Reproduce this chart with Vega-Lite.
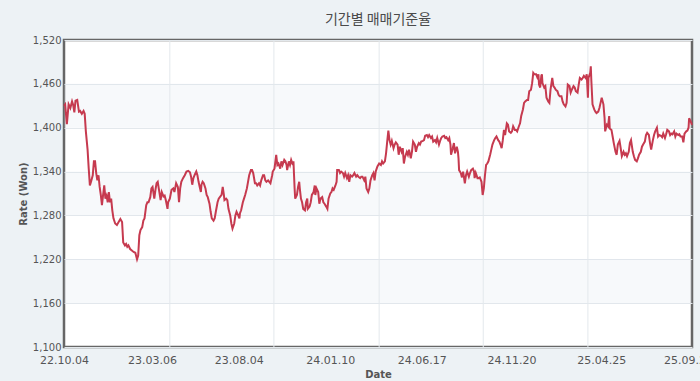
{
  "$schema": "https://vega.github.io/schema/vega-lite/v6.json",
  "width": 628,
  "height": 307,
  "autosize": {"type": "none"},
  "padding": {"left": 64, "top": 40, "right": 8, "bottom": 34},
  "background": "#edf2f5",
  "title": {"text": "기간별 매매기준율", "font": "Noto Sans CJK KR", "fontSize": 14, "fontWeight": "normal", "color": "#4a4a4a", "anchor": "middle", "frame": "group", "offset": 8},
  "config": {
    "view": {"fill": "#ffffff", "stroke": "#666666", "strokeWidth": 2.5},
    "axis": {"labelFont": "DejaVu Sans", "titleFont": "DejaVu Sans", "labelColor": "#555555", "titleColor": "#555555", "domain": false, "ticks": false, "gridColor": "#e3e8ec", "gridWidth": 1}
  },
  "layer": [
    {
      "data": {"values": [{"lo": 1160, "hi": 1220}, {"lo": 1280, "hi": 1340}, {"lo": 1400, "hi": 1460}]},
      "mark": {"type": "rect", "color": "#dbe3ec", "opacity": 0.22},
      "encoding": {
        "y": {"field": "lo", "type": "quantitative", "scale": {"domain": [1100, 1520], "nice": false, "zero": false}},
        "y2": {"field": "hi"}
      }
    },
    {
      "data": {"values": [{"d": "2023-04-06"}, {"d": "2023-10-04"}, {"d": "2024-04-04"}, {"d": "2024-10-02"}, {"d": "2025-04-02"}], "format": {"parse": {"d": "date:'%Y-%m-%d'"}}},
      "mark": {"type": "rule", "color": "#e3e8ec", "strokeWidth": 1},
      "encoding": {
        "x": {"field": "d", "type": "temporal", "scale": {"domain": [{"year": 2022, "month": 10, "date": 4}, {"year": 2025, "month": 9, "date": 30}]}}
      }
    },
    {
      "data": {"values": [
        {"date":"2022-10-04","rate":1430},{"date":"2022-10-06","rate":1432},{"date":"2022-10-09","rate":1405},{"date":"2022-10-12","rate":1432},{"date":"2022-10-15","rate":1427},{"date":"2022-10-18","rate":1436},{"date":"2022-10-20","rate":1431},{"date":"2022-10-22","rate":1421},{"date":"2022-10-24","rate":1437},{"date":"2022-10-27","rate":1438},{"date":"2022-10-30","rate":1422},{"date":"2022-11-01","rate":1423},{"date":"2022-11-04","rate":1419},{"date":"2022-11-07","rate":1423},{"date":"2022-11-09","rate":1419},{"date":"2022-11-11","rate":1395},{"date":"2022-11-14","rate":1370},{"date":"2022-11-16","rate":1344},{"date":"2022-11-18","rate":1321},{"date":"2022-11-20","rate":1326},{"date":"2022-11-23","rate":1335},{"date":"2022-11-25","rate":1354},{"date":"2022-11-27","rate":1354},{"date":"2022-11-29","rate":1338},{"date":"2022-12-01","rate":1328},{"date":"2022-12-03","rate":1335},{"date":"2022-12-05","rate":1319},{"date":"2022-12-07","rate":1308},{"date":"2022-12-09","rate":1294},{"date":"2022-12-11","rate":1308},{"date":"2022-12-13","rate":1321},{"date":"2022-12-15","rate":1303},{"date":"2022-12-17","rate":1307},{"date":"2022-12-19","rate":1298},{"date":"2022-12-21","rate":1312},{"date":"2022-12-23","rate":1298},{"date":"2022-12-25","rate":1303},{"date":"2022-12-27","rate":1287},{"date":"2022-12-29","rate":1276},
        {"date":"2023-01-01","rate":1269},{"date":"2023-01-04","rate":1267},{"date":"2023-01-07","rate":1271},{"date":"2023-01-10","rate":1275},{"date":"2023-01-13","rate":1271},{"date":"2023-01-15","rate":1243},{"date":"2023-01-18","rate":1239},{"date":"2023-01-20","rate":1241},{"date":"2023-01-22","rate":1237},{"date":"2023-01-24","rate":1239},{"date":"2023-01-27","rate":1234},{"date":"2023-01-30","rate":1232},{"date":"2023-02-02","rate":1230},{"date":"2023-02-05","rate":1229},{"date":"2023-02-08","rate":1220},{"date":"2023-02-10","rate":1225},{"date":"2023-02-12","rate":1253},{"date":"2023-02-14","rate":1260},{"date":"2023-02-17","rate":1264},{"date":"2023-02-19","rate":1273},{"date":"2023-02-21","rate":1276},{"date":"2023-02-24","rate":1294},{"date":"2023-02-26","rate":1298},{"date":"2023-02-28","rate":1298},{"date":"2023-03-03","rate":1305},{"date":"2023-03-05","rate":1317},{"date":"2023-03-07","rate":1319},{"date":"2023-03-10","rate":1303},{"date":"2023-03-12","rate":1315},{"date":"2023-03-14","rate":1324},{"date":"2023-03-16","rate":1326},{"date":"2023-03-21","rate":1301},{"date":"2023-03-23","rate":1312},{"date":"2023-03-26","rate":1306},{"date":"2023-03-28","rate":1307},{"date":"2023-03-30","rate":1301},{"date":"2023-04-02","rate":1289},
        {"date":"2023-04-03","rate":1298},{"date":"2023-04-06","rate":1303},{"date":"2023-04-09","rate":1315},{"date":"2023-04-12","rate":1317},{"date":"2023-04-14","rate":1312},{"date":"2023-04-17","rate":1324},{"date":"2023-04-20","rate":1319},{"date":"2023-04-22","rate":1298},{"date":"2023-04-24","rate":1317},{"date":"2023-04-26","rate":1326},{"date":"2023-04-29","rate":1331},{"date":"2023-05-02","rate":1335},{"date":"2023-05-05","rate":1340},{"date":"2023-05-08","rate":1341},{"date":"2023-05-11","rate":1339},{"date":"2023-05-13","rate":1333},{"date":"2023-05-15","rate":1322},{"date":"2023-05-17","rate":1331},{"date":"2023-05-19","rate":1335},{"date":"2023-05-22","rate":1340},{"date":"2023-05-24","rate":1335},{"date":"2023-05-26","rate":1326},{"date":"2023-05-28","rate":1319},{"date":"2023-05-30","rate":1312},{"date":"2023-05-31","rate":1322},{"date":"2023-06-02","rate":1326},{"date":"2023-06-04","rate":1324},{"date":"2023-06-07","rate":1317},{"date":"2023-06-09","rate":1308},{"date":"2023-06-11","rate":1305},{"date":"2023-06-14","rate":1296},{"date":"2023-06-16","rate":1285},{"date":"2023-06-18","rate":1276},{"date":"2023-06-21","rate":1273},{"date":"2023-06-23","rate":1276},{"date":"2023-06-25","rate":1285},{"date":"2023-06-28","rate":1298},{"date":"2023-06-30","rate":1303},{"date":"2023-07-02","rate":1305},{"date":"2023-07-05","rate":1308},{"date":"2023-07-07","rate":1319},{"date":"2023-07-09","rate":1308},{"date":"2023-07-10","rate":1301},{"date":"2023-07-13","rate":1303},{"date":"2023-07-15","rate":1301},{"date":"2023-07-17","rate":1289},{"date":"2023-07-20","rate":1280},{"date":"2023-07-22","rate":1269},{"date":"2023-07-24","rate":1262},{"date":"2023-07-27","rate":1269},{"date":"2023-07-29","rate":1280},{"date":"2023-07-31","rate":1285},{"date":"2023-08-03","rate":1280},{"date":"2023-08-05","rate":1276},{"date":"2023-08-06","rate":1283},{"date":"2023-08-08","rate":1287},{"date":"2023-08-11","rate":1298},{"date":"2023-08-13","rate":1303},{"date":"2023-08-15","rate":1308},{"date":"2023-08-18","rate":1317},{"date":"2023-08-20","rate":1326},{"date":"2023-08-22","rate":1335},{"date":"2023-08-25","rate":1342},{"date":"2023-08-27","rate":1342},{"date":"2023-08-29","rate":1338},{"date":"2023-09-01","rate":1324},{"date":"2023-09-03","rate":1324},{"date":"2023-09-05","rate":1321},{"date":"2023-09-08","rate":1324},{"date":"2023-09-10","rate":1321},{"date":"2023-09-12","rate":1328},{"date":"2023-09-15","rate":1335},{"date":"2023-09-17","rate":1335},{"date":"2023-09-19","rate":1328},{"date":"2023-09-21","rate":1326},{"date":"2023-09-24","rate":1328},{"date":"2023-09-26","rate":1326},{"date":"2023-09-28","rate":1324},{"date":"2023-10-01","rate":1335},
        {"date":"2023-10-02","rate":1340},{"date":"2023-10-05","rate":1344},{"date":"2023-10-08","rate":1363},{"date":"2023-10-10","rate":1349},{"date":"2023-10-12","rate":1351},{"date":"2023-10-15","rate":1344},{"date":"2023-10-17","rate":1354},{"date":"2023-10-19","rate":1349},{"date":"2023-10-22","rate":1356},{"date":"2023-10-24","rate":1354},{"date":"2023-10-26","rate":1349},{"date":"2023-10-27","rate":1342},{"date":"2023-10-30","rate":1354},{"date":"2023-11-01","rate":1349},{"date":"2023-11-03","rate":1356},{"date":"2023-11-06","rate":1349},{"date":"2023-11-07","rate":1354},{"date":"2023-11-08","rate":1335},{"date":"2023-11-09","rate":1317},{"date":"2023-11-10","rate":1303},{"date":"2023-11-13","rate":1308},{"date":"2023-11-15","rate":1319},{"date":"2023-11-17","rate":1326},{"date":"2023-11-18","rate":1317},{"date":"2023-11-20","rate":1303},{"date":"2023-11-22","rate":1298},{"date":"2023-11-24","rate":1289},{"date":"2023-11-27","rate":1287},{"date":"2023-11-29","rate":1298},{"date":"2023-12-01","rate":1303},{"date":"2023-12-02","rate":1289},{"date":"2023-12-05","rate":1292},{"date":"2023-12-07","rate":1298},{"date":"2023-12-09","rate":1308},{"date":"2023-12-12","rate":1312},{"date":"2023-12-14","rate":1321},{"date":"2023-12-15","rate":1308},{"date":"2023-12-17","rate":1317},{"date":"2023-12-20","rate":1312},{"date":"2023-12-22","rate":1296},{"date":"2023-12-24","rate":1303},{"date":"2023-12-27","rate":1305},{"date":"2023-12-29","rate":1298},{"date":"2023-12-31","rate":1296},
        {"date":"2024-01-03","rate":1292},{"date":"2024-01-05","rate":1289},{"date":"2024-01-07","rate":1303},{"date":"2024-01-10","rate":1310},{"date":"2024-01-12","rate":1312},{"date":"2024-01-14","rate":1317},{"date":"2024-01-16","rate":1315},{"date":"2024-01-19","rate":1321},{"date":"2024-01-21","rate":1326},{"date":"2024-01-22","rate":1342},{"date":"2024-01-25","rate":1342},{"date":"2024-01-27","rate":1338},{"date":"2024-01-29","rate":1340},{"date":"2024-02-01","rate":1338},{"date":"2024-02-03","rate":1333},{"date":"2024-02-05","rate":1338},{"date":"2024-02-08","rate":1331},{"date":"2024-02-10","rate":1335},{"date":"2024-02-12","rate":1326},{"date":"2024-02-14","rate":1335},{"date":"2024-02-17","rate":1333},{"date":"2024-02-19","rate":1335},{"date":"2024-02-21","rate":1338},{"date":"2024-02-24","rate":1333},{"date":"2024-02-26","rate":1335},{"date":"2024-02-28","rate":1333},{"date":"2024-03-02","rate":1331},{"date":"2024-03-04","rate":1333},{"date":"2024-03-06","rate":1333},{"date":"2024-03-09","rate":1328},{"date":"2024-03-11","rate":1333},{"date":"2024-03-13","rate":1317},{"date":"2024-03-16","rate":1312},{"date":"2024-03-18","rate":1317},{"date":"2024-03-20","rate":1328},{"date":"2024-03-23","rate":1335},{"date":"2024-03-25","rate":1338},{"date":"2024-03-27","rate":1328},{"date":"2024-03-29","rate":1340},
        {"date":"2024-04-01","rate":1347},{"date":"2024-04-04","rate":1351},{"date":"2024-04-07","rate":1349},{"date":"2024-04-09","rate":1354},{"date":"2024-04-11","rate":1351},{"date":"2024-04-14","rate":1354},{"date":"2024-04-16","rate":1365},{"date":"2024-04-18","rate":1381},{"date":"2024-04-20","rate":1396},{"date":"2024-04-22","rate":1383},{"date":"2024-04-24","rate":1377},{"date":"2024-04-26","rate":1382},{"date":"2024-04-29","rate":1372},{"date":"2024-05-01","rate":1377},{"date":"2024-05-03","rate":1380},{"date":"2024-05-06","rate":1377},{"date":"2024-05-08","rate":1363},{"date":"2024-05-10","rate":1374},{"date":"2024-05-13","rate":1367},{"date":"2024-05-15","rate":1372},{"date":"2024-05-17","rate":1351},{"date":"2024-05-19","rate":1360},{"date":"2024-05-22","rate":1367},{"date":"2024-05-24","rate":1363},{"date":"2024-05-26","rate":1370},{"date":"2024-05-29","rate":1358},{"date":"2024-05-31","rate":1367},{"date":"2024-06-02","rate":1381},{"date":"2024-06-05","rate":1377},{"date":"2024-06-07","rate":1367},{"date":"2024-06-09","rate":1374},{"date":"2024-06-12","rate":1379},{"date":"2024-06-14","rate":1377},{"date":"2024-06-16","rate":1381},{"date":"2024-06-19","rate":1382},{"date":"2024-06-21","rate":1383},{"date":"2024-06-23","rate":1389},{"date":"2024-06-26","rate":1390},{"date":"2024-06-28","rate":1387},{"date":"2024-06-30","rate":1390},{"date":"2024-07-03","rate":1386},{"date":"2024-07-05","rate":1388},{"date":"2024-07-07","rate":1381},{"date":"2024-07-10","rate":1383},{"date":"2024-07-12","rate":1380},{"date":"2024-07-14","rate":1386},{"date":"2024-07-17","rate":1377},{"date":"2024-07-19","rate":1382},{"date":"2024-07-21","rate":1386},{"date":"2024-07-23","rate":1388},{"date":"2024-07-26","rate":1389},{"date":"2024-07-28","rate":1386},{"date":"2024-07-30","rate":1387},{"date":"2024-08-02","rate":1383},{"date":"2024-08-04","rate":1386},{"date":"2024-08-06","rate":1377},{"date":"2024-08-07","rate":1363},{"date":"2024-08-10","rate":1372},{"date":"2024-08-12","rate":1379},{"date":"2024-08-14","rate":1365},{"date":"2024-08-17","rate":1374},{"date":"2024-08-19","rate":1367},{"date":"2024-08-20","rate":1358},{"date":"2024-08-21","rate":1342},{"date":"2024-08-24","rate":1338},{"date":"2024-08-26","rate":1332},{"date":"2024-08-28","rate":1340},{"date":"2024-08-31","rate":1324},{"date":"2024-09-02","rate":1335},{"date":"2024-09-04","rate":1340},{"date":"2024-09-07","rate":1333},{"date":"2024-09-09","rate":1338},{"date":"2024-09-11","rate":1342},{"date":"2024-09-14","rate":1344},{"date":"2024-09-16","rate":1340},{"date":"2024-09-17","rate":1331},{"date":"2024-09-19","rate":1338},{"date":"2024-09-22","rate":1331},{"date":"2024-09-24","rate":1331},{"date":"2024-09-26","rate":1332},{"date":"2024-09-29","rate":1326},{"date":"2024-10-01","rate":1308},{"date":"2024-10-03","rate":1317},
        {"date":"2024-10-05","rate":1335},{"date":"2024-10-07","rate":1349},{"date":"2024-10-09","rate":1351},{"date":"2024-10-11","rate":1354},{"date":"2024-10-14","rate":1363},{"date":"2024-10-16","rate":1370},{"date":"2024-10-18","rate":1377},{"date":"2024-10-21","rate":1383},{"date":"2024-10-23","rate":1386},{"date":"2024-10-25","rate":1388},{"date":"2024-10-28","rate":1383},{"date":"2024-10-30","rate":1381},{"date":"2024-11-01","rate":1377},{"date":"2024-11-03","rate":1372},{"date":"2024-11-05","rate":1383},{"date":"2024-11-07","rate":1397},{"date":"2024-11-09","rate":1390},{"date":"2024-11-12","rate":1406},{"date":"2024-11-14","rate":1404},{"date":"2024-11-16","rate":1395},{"date":"2024-11-19","rate":1393},{"date":"2024-11-21","rate":1395},{"date":"2024-11-23","rate":1402},{"date":"2024-11-26","rate":1397},{"date":"2024-11-28","rate":1397},{"date":"2024-11-30","rate":1395},{"date":"2024-12-03","rate":1402},{"date":"2024-12-05","rate":1406},{"date":"2024-12-07","rate":1416},{"date":"2024-12-10","rate":1425},{"date":"2024-12-12","rate":1434},{"date":"2024-12-14","rate":1436},{"date":"2024-12-17","rate":1438},{"date":"2024-12-19","rate":1438},{"date":"2024-12-21","rate":1450},{"date":"2024-12-24","rate":1452},{"date":"2024-12-26","rate":1461},{"date":"2024-12-28","rate":1475},{"date":"2024-12-30","rate":1473},
        {"date":"2025-01-02","rate":1473},{"date":"2025-01-04","rate":1469},{"date":"2025-01-06","rate":1473},{"date":"2025-01-07","rate":1459},{"date":"2025-01-09","rate":1455},{"date":"2025-01-11","rate":1471},{"date":"2025-01-12","rate":1473},{"date":"2025-01-13","rate":1461},{"date":"2025-01-16","rate":1455},{"date":"2025-01-18","rate":1457},{"date":"2025-01-20","rate":1441},{"date":"2025-01-23","rate":1436},{"date":"2025-01-25","rate":1434},{"date":"2025-01-27","rate":1452},{"date":"2025-01-30","rate":1468},{"date":"2025-02-01","rate":1457},{"date":"2025-02-03","rate":1455},{"date":"2025-02-05","rate":1452},{"date":"2025-02-08","rate":1450},{"date":"2025-02-10","rate":1445},{"date":"2025-02-12","rate":1443},{"date":"2025-02-15","rate":1443},{"date":"2025-02-17","rate":1436},{"date":"2025-02-19","rate":1432},{"date":"2025-02-22","rate":1429},{"date":"2025-02-24","rate":1434},{"date":"2025-02-26","rate":1459},{"date":"2025-03-01","rate":1457},{"date":"2025-03-03","rate":1448},{"date":"2025-03-05","rate":1452},{"date":"2025-03-08","rate":1457},{"date":"2025-03-10","rate":1455},{"date":"2025-03-12","rate":1450},{"date":"2025-03-15","rate":1448},{"date":"2025-03-17","rate":1459},{"date":"2025-03-19","rate":1468},{"date":"2025-03-22","rate":1466},{"date":"2025-03-24","rate":1468},{"date":"2025-03-26","rate":1471},{"date":"2025-03-29","rate":1468},{"date":"2025-03-31","rate":1473},{"date":"2025-04-02","rate":1441},
        {"date":"2025-04-03","rate":1468},{"date":"2025-04-06","rate":1475},{"date":"2025-04-07","rate":1484},{"date":"2025-04-08","rate":1464},{"date":"2025-04-10","rate":1432},{"date":"2025-04-13","rate":1425},{"date":"2025-04-15","rate":1422},{"date":"2025-04-17","rate":1420},{"date":"2025-04-20","rate":1422},{"date":"2025-04-22","rate":1427},{"date":"2025-04-24","rate":1434},{"date":"2025-04-26","rate":1441},{"date":"2025-04-29","rate":1432},{"date":"2025-05-01","rate":1413},{"date":"2025-05-02","rate":1395},{"date":"2025-05-05","rate":1404},{"date":"2025-05-07","rate":1402},{"date":"2025-05-09","rate":1416},{"date":"2025-05-10","rate":1399},{"date":"2025-05-13","rate":1397},{"date":"2025-05-15","rate":1388},{"date":"2025-05-17","rate":1379},{"date":"2025-05-20","rate":1367},{"date":"2025-05-22","rate":1363},{"date":"2025-05-24","rate":1377},{"date":"2025-05-27","rate":1382},{"date":"2025-05-29","rate":1372},{"date":"2025-05-31","rate":1361},{"date":"2025-06-03","rate":1367},{"date":"2025-06-05","rate":1363},{"date":"2025-06-07","rate":1365},{"date":"2025-06-09","rate":1361},{"date":"2025-06-12","rate":1367},{"date":"2025-06-14","rate":1379},{"date":"2025-06-16","rate":1383},{"date":"2025-06-19","rate":1367},{"date":"2025-06-21","rate":1361},{"date":"2025-06-23","rate":1356},{"date":"2025-06-26","rate":1354},{"date":"2025-06-28","rate":1358},{"date":"2025-06-30","rate":1363},{"date":"2025-07-03","rate":1367},{"date":"2025-07-05","rate":1374},{"date":"2025-07-07","rate":1377},{"date":"2025-07-10","rate":1381},{"date":"2025-07-12","rate":1390},{"date":"2025-07-14","rate":1393},{"date":"2025-07-17","rate":1390},{"date":"2025-07-19","rate":1379},{"date":"2025-07-21","rate":1370},{"date":"2025-07-24","rate":1383},{"date":"2025-07-26","rate":1390},{"date":"2025-07-28","rate":1395},{"date":"2025-07-31","rate":1400},{"date":"2025-08-02","rate":1388},{"date":"2025-08-04","rate":1390},{"date":"2025-08-07","rate":1389},{"date":"2025-08-09","rate":1387},{"date":"2025-08-11","rate":1392},{"date":"2025-08-14","rate":1386},{"date":"2025-08-16","rate":1391},{"date":"2025-08-18","rate":1397},{"date":"2025-08-21","rate":1395},{"date":"2025-08-23","rate":1390},{"date":"2025-08-25","rate":1392},{"date":"2025-08-27","rate":1391},{"date":"2025-08-30","rate":1395},{"date":"2025-09-01","rate":1388},{"date":"2025-09-03","rate":1392},{"date":"2025-09-06","rate":1390},{"date":"2025-09-08","rate":1391},{"date":"2025-09-10","rate":1388},{"date":"2025-09-13","rate":1388},{"date":"2025-09-15","rate":1380},{"date":"2025-09-17","rate":1392},{"date":"2025-09-20","rate":1395},{"date":"2025-09-22","rate":1396},{"date":"2025-09-24","rate":1400},{"date":"2025-09-25","rate":1413},{"date":"2025-09-28","rate":1408},{"date":"2025-09-30","rate":1404}
      ], "format": {"parse": {"date": "date:'%Y-%m-%d'"}}},
      "mark": {"type": "line", "color": "#c63a4f", "strokeWidth": 2},
      "encoding": {
        "x": {"field": "date", "type": "temporal", "title": "Date", "scale": {"domain": [{"year": 2022, "month": 10, "date": 4}, {"year": 2025, "month": 9, "date": 30}]}, "axis": {"values": [{"year": 2022, "month": 10, "date": 4}, {"year": 2023, "month": 3, "date": 6}, {"year": 2023, "month": 8, "date": 4}, {"year": 2024, "month": 1, "date": 10}, {"year": 2024, "month": 6, "date": 17}, {"year": 2024, "month": 11, "date": 20}, {"year": 2025, "month": 4, "date": 25}, {"year": 2025, "month": 9, "date": 23}], "labelExpr": "timeFormat(datum.value, '%y.%m.%d')", "grid": false, "labelFlush": false, "labelOverlap": false, "labelFontSize": 11, "labelPadding": 7, "title": "Date", "titleFontSize": 10, "titleFontWeight": "bold", "titlePadding": 4}},
        "y": {"field": "rate", "type": "quantitative", "title": "Rate (Won)", "scale": {"domain": [1100, 1520], "nice": false, "zero": false}, "axis": {"values": [1100, 1160, 1220, 1280, 1340, 1400, 1460, 1520], "labelExpr": "format(datum.value, ',')", "grid": true, "labelFontSize": 10, "labelPadding": 3, "title": "Rate (Won)", "titleFontSize": 10, "titleFontWeight": "bold", "titlePadding": 4}}
      }
    }
  ]
}
